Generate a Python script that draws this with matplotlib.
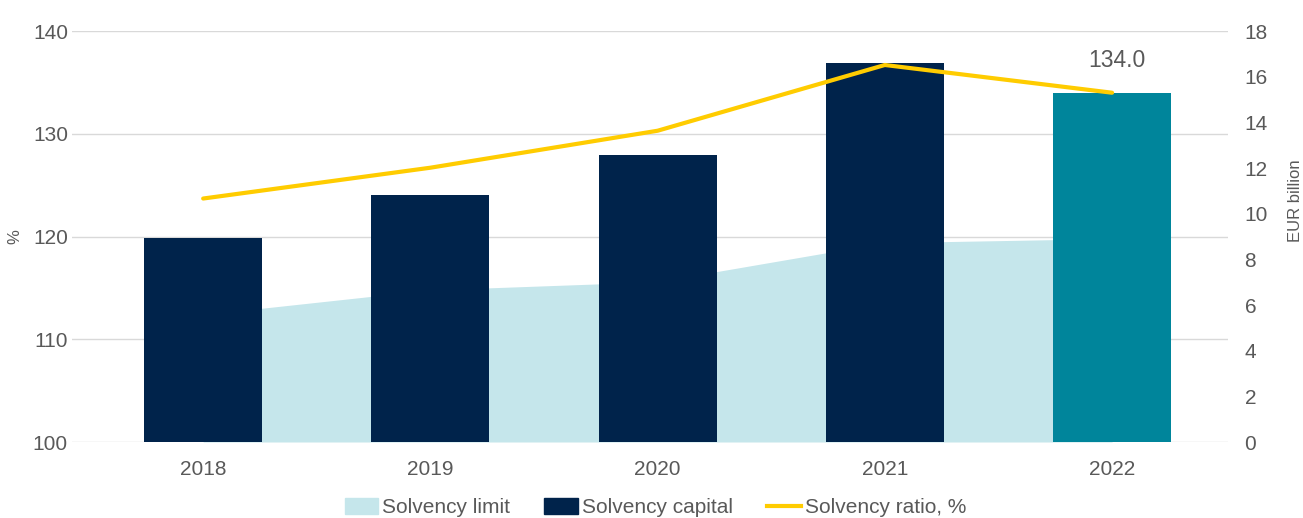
import matplotlib
matplotlib.use("Agg")
import matplotlib.pyplot as plt
import numpy as np
from matplotlib.patches import Patch
from matplotlib.lines import Line2D

plt.rcParams['font.family'] = ['Liberation Sans', 'DejaVu Sans']

years = ["2018", "2019", "2020", "2021", "2022"]
solvency_limit = [5.58, 6.66, 7.02, 8.73, 8.91]       # EUR billion
solvency_capital = [8.93, 10.82, 12.57, 16.60, 15.29]  # EUR billion
solvency_ratio = [123.7, 126.7, 130.3, 136.7, 134.0]   # %
left_ticks = [100, 110, 120, 130, 140]
right_ticks = [0, 2, 4, 6, 8, 10, 12, 14, 16, 18]

TXT = "#595959"
fig = plt.figure(figsize=(13.03, 5.18), dpi=100)
ax = fig.add_axes([0.0553, 0.1467, 0.8871, 0.7933])
ax2 = ax.twinx()

x = np.arange(len(years))

# Right axis: area + bars
ax2.fill_between(x, 0, solvency_limit, color="#C5E6EB", linewidth=0, zorder=1)
bar_colors = ["#00234B"] * 4 + ["#00859B"]
ax2.bar(x, solvency_capital, width=0.52, color=bar_colors, zorder=2)
ax2.set_ylim(0, 18)
ax2.set_yticks(right_ticks)

# Left axis: gridlines
ax.set_ylim(100, 140)
ax.set_yticks(left_ticks)
ax.grid(axis="y", color="#D9D9D9", linewidth=1)
ax.set_axisbelow(True)

ax.set_zorder(ax2.get_zorder() - 1)
ax.patch.set_visible(False)
ax2.patch.set_visible(False)

# ratio line on an overlay axis sharing the left scale, above the bars
ax3 = ax.twinx()
ax3.set_zorder(ax2.get_zorder() + 1)
ax3.set_ylim(100, 140)
ax3.plot(x, solvency_ratio, color="#FFCC00", linewidth=3, solid_capstyle="round", zorder=5)
ax3.axis("off")
ax3.text(x[-1] + 0.02, solvency_ratio[-1] + 2.0, f"{solvency_ratio[-1]:.1f}", ha="center", va="bottom",
         color=TXT, fontsize=16.5)

for a in (ax, ax2, ax3):
    a.set_xlim(-0.577, 4.51)
    for s in a.spines.values():
        s.set_visible(False)

ax.set_xticks(x)
ax.set_xticklabels(years)
ax.tick_params(axis="x", length=0, pad=13, labelsize=15, colors=TXT)
ax.tick_params(axis="y", length=0, pad=3, labelsize=15, colors=TXT)
ax2.tick_params(axis="y", length=0, pad=12, labelsize=15, colors=TXT)

# axis titles
fig.text(15 / 1303, 1 - 237 / 518, "%", rotation=90, ha="center", va="center", color=TXT, fontsize=12)
fig.text(1296 / 1303, 1 - 201 / 518, "EUR billion", rotation=90, ha="center", va="center",
         color=TXT, fontsize=12)

handles = [Patch(color="#C5E6EB", label="Solvency limit"),
           Patch(color="#00234B", label="Solvency capital"),
           Line2D([0], [0], color="#FFCC00", linewidth=3, label="Solvency ratio, %")]
leg = fig.legend(handles=handles, loc="lower center", bbox_to_anchor=(0.503, -0.035), ncol=3,
                 frameon=False, fontsize=15, handlelength=1.6, handleheight=0.8,
                 handletextpad=0.2, columnspacing=1.65, labelcolor=TXT)

fig.savefig("out.png", dpi=100)
